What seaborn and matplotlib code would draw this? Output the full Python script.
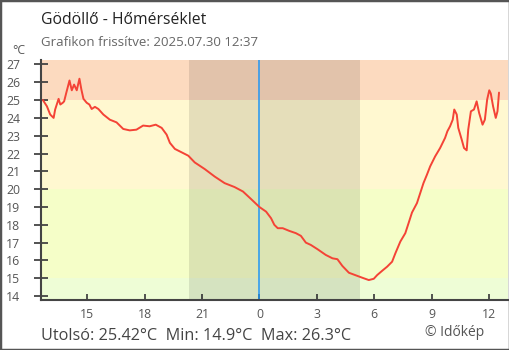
import matplotlib
matplotlib.use("Agg")
import matplotlib.pyplot as plt
import seaborn as sns
import pandas as pd
from matplotlib.patches import Rectangle

# ---- data (hours relative to midnight, temperature in °C) ----
hours = [-11.32, -11.11, -10.94, -10.76, -10.68, -10.50, -10.41, -10.28, -10.21, -10.10,
         -9.93, -9.81, -9.69, -9.55, -9.41, -9.31, -9.20, -9.03, -8.89, -8.77,
         -8.60, -8.42, -8.16, -7.82, -7.47, -7.12, -6.78, -6.43, -6.08, -5.74,
         -5.42, -5.11, -4.85, -4.68, -4.42, -4.07, -3.72, -3.38, -2.86, -2.34,
         -1.82, -1.30, -0.86, -0.43, 0.00, 0.35, 0.61, 0.78, 0.96, 1.22,
         1.56, 1.91, 2.17, 2.43, 2.69, 3.04, 3.47, 3.82, 4.08, 4.34,
         4.68, 5.03, 5.38, 5.72, 5.98, 6.16, 6.42, 6.68, 6.94, 7.11,
         7.37, 7.63, 7.80, 7.98, 8.24, 8.41, 8.58, 8.76, 8.93, 9.19,
         9.45, 9.71, 9.83, 9.97, 10.11, 10.19, 10.32, 10.40, 10.58, 10.70,
         10.84, 10.92, 11.06, 11.22, 11.36, 11.49, 11.67, 11.79, 11.91, 12.02,
         12.10, 12.22, 12.36, 12.45, 12.53]
temps = [25.0, 24.65, 24.19, 24.0, 24.47, 25.07, 24.75, 24.85, 24.93, 25.4,
         26.1, 25.55, 25.87, 25.55, 26.2, 25.6, 25.07, 24.85, 24.75, 24.5,
         24.62, 24.5, 24.19, 23.9, 23.75, 23.38, 23.3, 23.34, 23.57, 23.53,
         23.62, 23.44, 23.06, 22.6, 22.26, 22.07, 21.88, 21.5, 21.13, 20.71,
         20.34, 20.12, 19.87, 19.44, 19.0, 18.74, 18.37, 18.0, 17.81, 17.81,
         17.66, 17.53, 17.38, 17.0, 16.87, 16.63, 16.31, 16.12, 16.07, 15.69,
         15.31, 15.17, 15.03, 14.9, 14.97, 15.18, 15.42, 15.65, 15.93, 16.4,
         17.06, 17.53, 18.09, 18.69, 19.22, 19.78, 20.34, 20.81, 21.28, 21.84,
         22.31, 22.88, 23.25, 23.53, 23.9, 24.47, 24.19, 23.44, 22.78, 22.31,
         22.18, 23.34, 24.37, 24.47, 24.93, 24.28, 23.62, 23.9, 25.03, 25.55,
         25.37, 24.65, 24.0, 24.37, 25.42]

xtick_pos = [-9, -6, -3, 0, 3, 6, 9, 12]
xtick_labels = ["15", "18", "21", "0", "3", "6", "9", "12"]
ytick_vals = list(range(14, 28))
band_edges = [13.0, 15, 20, 25, 28]
band_colors = ["#eefdd6", "#f5fec8", "#fff8d0", "#fcdabf"]
night_start, night_end = -3.66, 5.24

title = "Gödöllő - Hőmérséklet"
subtitle = "Grafikon frissítve: 2025.07.30 12:37"
footer = "Utolsó: 25.42°C  Min: 14.9°C  Max: 26.3°C"
credit = "© Időkép"

sns.set_theme(style="white")
plt.rcParams["font.family"] = ["Open Sans", "DejaVu Sans"]

W, H = 510, 350
fig = plt.figure(figsize=(W / 100, H / 100), dpi=100)
ax = fig.add_axes([41 / W, 1 - 300 / H, (508 - 41) / W, (300 - 60) / H])

for lo, hi, c in zip(band_edges[:-1], band_edges[1:], band_colors):
    ax.axhspan(lo, hi, color=c, lw=0, zorder=0)
ax.axvspan(night_start, night_end, color="black", alpha=0.1, lw=0, zorder=1)
ax.axvline(0, color="#2196f3", lw=1.1, zorder=2)

df = pd.DataFrame({"h": hours, "t": temps})
sns.lineplot(data=df, x="h", y="t", ax=ax, color="#f44336", lw=1.4, zorder=3)

ax.set_xlim(-11.42, 13.0)
ax.set_ylim(13.78, 27.25)
ax.set_xlabel("")
ax.set_ylabel("")

ax.set_yticks(ytick_vals)
ax.set_yticklabels([str(v) for v in ytick_vals])
ax.set_xticks(xtick_pos)
ax.set_xticklabels(xtick_labels)
ax.tick_params(axis="y", direction="inout", length=10, width=1.3, color="#444444",
               pad=10, labelsize=8.8, labelcolor="#555555", left=True)
ax.tick_params(axis="x", direction="in", length=4.5, width=1.3, color="#444444",
               pad=6, labelsize=8.8, labelcolor="#555555", bottom=True)

for s in ["top", "right"]:
    ax.spines[s].set_visible(False)
for s in ["left", "bottom"]:
    ax.spines[s].set_color("#444444")
    ax.spines[s].set_linewidth(1.5)

fig.text(41 / W, 1 - 24 / H, title, fontsize=11.3, color="#222222", va="baseline")
fig.text(41 / W, 1 - 46 / H, subtitle, fontsize=9.5, color="#666666", va="baseline")
fig.text(19 / W, 1 - 51 / H, "°C", fontsize=8.8, color="#555555", ha="center", va="center")
fig.text(41 / W, 1 - 340 / H, footer, fontsize=11.7, color="#444444", va="baseline")
fig.text(425 / W, 1 - 336 / H, credit, fontsize=10, color="#555555", va="baseline")

fig.patches.append(Rectangle((0, 0), 1, 1, transform=fig.transFigure, fill=False,
                             edgecolor="#555555", lw=2.5, zorder=10))

fig.savefig("out.png", dpi=100)
